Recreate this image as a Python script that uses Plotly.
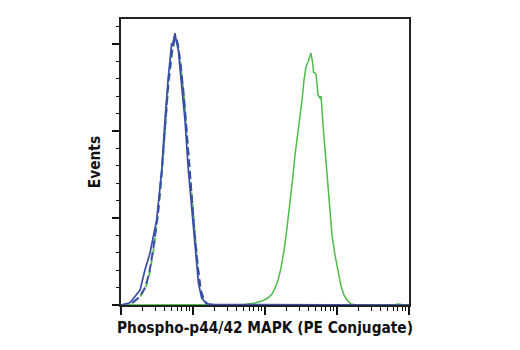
import plotly.graph_objects as go

# Blue solid: untreated, Phospho-p44/42 MAPK
blue_x = [1.0, 1.02, 1.33, 1.84, 2.15, 2.53, 3.13, 3.68, 4.08, 4.54, 5.06, 5.2, 5.36, 5.62, 5.90, 6.25,
          6.97, 7.74, 8.61, 9.59, 10.7, 11.9, 13.2, 15.5, 20.2, 10000]
blue_y = [0, 0, 1.3, 8.6, 20.1, 29.9, 48.9, 77.6, 106.3, 131.2, 150.6, 149.0, 152.3, 156.3, 151.1, 146.6,
          125.5, 106.3, 77.6, 56.5, 35.6, 12.6, 4.0, 0.6, 0.2, 0]

# Blue dashed: untreated, isotype control
blue_iso_x = [1.0, 1.02, 1.38, 1.80, 2.19, 2.48, 2.82, 3.27, 3.70, 4.10, 4.52, 5.02, 5.48, 5.80, 6.20,
              6.75, 7.45, 8.35, 9.35, 10.5, 11.7, 12.8, 14.3, 16.5, 10000]
blue_iso_y = [0, 0, 0.6, 4.6, 10.3, 19.0, 32.8, 53.4, 77.6, 103.4, 126.4, 143.7, 152.3, 154.0, 149.4,
              137.9, 120.7, 94.8, 66.1, 42.0, 21.3, 8.6, 2.3, 0, 0]

# Green dashed: treated, isotype control
green_iso_x = [1.0, 1.05, 1.40, 1.82, 2.20, 2.50, 2.84, 3.28, 3.72, 4.12, 4.55, 5.05, 5.50, 5.82, 6.22,
               6.78, 7.48, 8.38, 9.40, 10.6, 11.8, 12.9, 14.4, 16.7, 10000]
green_iso_y = [0, 0, 0.8, 4.4, 10.0, 18.5, 32.0, 52.5, 77.0, 103.0, 126.0, 143.0, 151.5, 153.5, 149.0,
               137.0, 120.0, 94.0, 65.5, 41.5, 21.0, 8.4, 2.2, 0, 0]

# Green solid: treated, Phospho-p44/42 MAPK
green_x = [1.0, 32.7, 52.7, 72.6, 90.8, 110, 125, 138, 152, 167, 184, 202, 222, 241, 261, 283, 306,
           327, 348, 371, 395, 415, 435, 457, 472, 511, 545, 581, 600, 640, 681, 726, 774, 853, 938,
           1033, 1137, 1251, 1377, 1565, 1836, 6000, 7000, 8500, 10000]
green_y = [0, 0, 0.3, 1.1, 2.3, 4.0, 6.3, 9.8, 14.4, 21.3, 31.6, 44.3, 57.5, 71.8, 86.2, 97.7, 106.3,
           117.8, 129.3, 136.8, 139.7, 142.5, 144.8, 139.7, 133.9, 132.8, 120.7, 119.0, 120.1, 103.4,
           89.1, 71.8, 57.5, 40.2, 28.7, 19.0, 10.9, 5.7, 2.9, 0.6, 0, 0, 0.5, 0, 0]

x_title = "Phospho-p44/42 MAPK (PE Conjugate)"
y_title = "Events"

BLUE = "#3a4ea8"
GREEN = "#4fbb48"

fig = go.Figure()
fig.add_trace(go.Scatter(x=green_iso_x, y=green_iso_y, mode="lines",
                         line=dict(color=GREEN, width=1.8, dash="6px,5px")))
fig.add_trace(go.Scatter(x=blue_iso_x, y=blue_iso_y, mode="lines",
                         line=dict(color=BLUE, width=2.0, dash="8px,4px")))
fig.add_trace(go.Scatter(x=green_x, y=green_y, mode="lines",
                         line=dict(color=GREEN, width=1.5)))
fig.add_trace(go.Scatter(x=blue_x, y=blue_y, mode="lines",
                         line=dict(color=BLUE, width=1.7)))

font_fam = "Liberation Sans Narrow, DejaVu Sans Condensed, Arial Narrow, sans-serif"

minor_x = []
for dec in [1, 10, 100, 1000]:
    for m in range(2, 10):
        minor_x.append(dec * m)

fig.update_layout(
    width=520, height=350,
    margin=dict(l=121, r=111, t=19, b=45),
    paper_bgcolor="white", plot_bgcolor="white",
    showlegend=False,
    xaxis=dict(
        type="log", range=[0, 4],
        showgrid=False, zeroline=False,
        showline=True, linecolor="#222", linewidth=2, mirror=True,
        ticks="outside", ticklen=8, tickwidth=2, tickcolor="#111",
        tickvals=[1, 10, 100, 1000, 10000], showticklabels=False,
        minor=dict(tickmode="array", tickvals=minor_x, ticks="outside", ticklen=4,
                   tickwidth=1, tickcolor="#111", showgrid=False),
        title=dict(text="<b>" + x_title + "</b>", standoff=8,
                   font=dict(family=font_fam, size=15.3, color="#111")),
    ),
    yaxis=dict(
        range=[0, 164.4],
        showgrid=False, zeroline=False,
        showline=True, linecolor="#222", linewidth=2, mirror=True,
        ticks="outside", ticklen=7, tickwidth=2, tickcolor="#111",
        tickmode="linear", tick0=0, dtick=50, showticklabels=False,
        minor=dict(tickmode="linear", tick0=0, dtick=10, ticks="outside", ticklen=3,
                   tickwidth=1, tickcolor="#111", showgrid=False),
        title=dict(text="<b>" + y_title + "</b>", standoff=8,
                   font=dict(family=font_fam, size=15.3, color="#111")),
    ),
)

fig.write_html("out.html")
